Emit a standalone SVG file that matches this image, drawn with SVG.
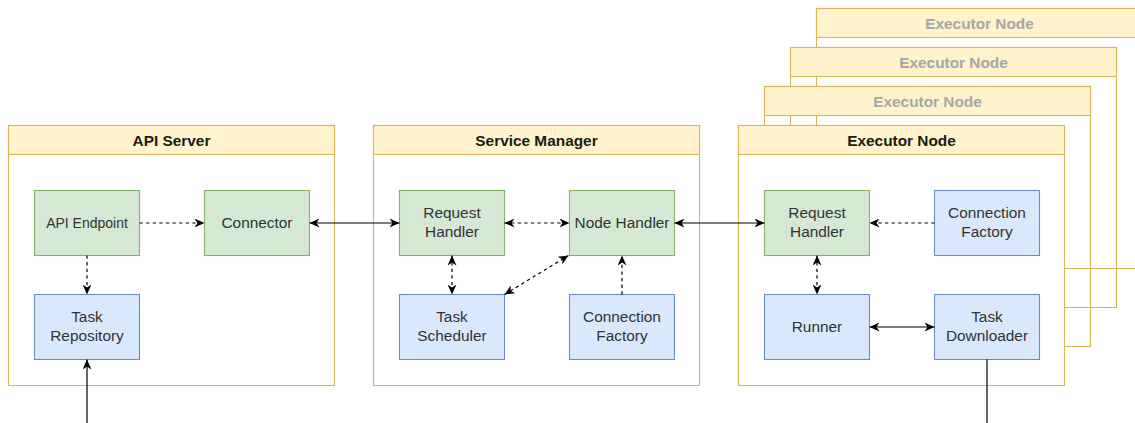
<svg xmlns="http://www.w3.org/2000/svg" width="1135" height="423" viewBox="0 0 1135 423">
<style>
.body{fill:none;stroke:#d6b656;stroke-width:1.1}
.front{fill:#ffffff;stroke:#d6b656;stroke-width:1.1}
.head{fill:#fff2cc;stroke:#d6b656;stroke-width:1.1}
.htxt{font-family:"Liberation Sans",Arial,sans-serif;font-weight:bold;font-size:15.4px;fill:#1a1a1a;text-anchor:middle}
.htxt.ghost{fill:#a6a6a6}
.g{fill:#d5e8d4;stroke:#82b366;stroke-width:1.1}
.b{fill:#dae8fc;stroke:#6c8ebf;stroke-width:1.1}
.t{font-family:"Liberation Sans",Arial,sans-serif;font-size:15.4px;fill:#333333;text-anchor:middle}
.c{fill:none;stroke:#000;stroke-width:1.2}
.d{stroke-dasharray:3.3 3.3}
</style>
<defs>
<marker id="ar" viewBox="0 0 10 9" refX="10" refY="4.5" markerWidth="10" markerHeight="9" markerUnits="userSpaceOnUse" orient="auto-start-reverse">
<path d="M0,0 L10,4.5 L0,9 L3,4.5 z" fill="#000"/>
</marker>
</defs>

<g id="executor-back-1">
<rect class="body" x="816.5" y="8.5" width="326" height="260"/>
<rect class="head" x="816.5" y="8.5" width="326" height="29"/>
<text class="htxt ghost" x="979.5" y="28.5">Executor Node</text>
</g>
<g id="executor-back-2">
<rect class="body" x="790.5" y="47.5" width="326" height="260"/>
<rect class="head" x="790.5" y="47.5" width="326" height="29"/>
<text class="htxt ghost" x="953.5" y="67.5">Executor Node</text>
</g>
<g id="executor-back-3">
<rect class="body" x="764.5" y="86.5" width="326" height="260"/>
<rect class="head" x="764.5" y="86.5" width="326" height="29"/>
<text class="htxt ghost" x="927.5" y="106.5">Executor Node</text>
</g>

<g id="api-server">
<rect class="front" x="8.5" y="125.5" width="326" height="260"/>
<rect class="head" x="8.5" y="125.5" width="326" height="29"/>
<text class="htxt" x="171.5" y="145.5">API Server</text>
</g>
<g id="service-manager">
<rect class="front" x="373.5" y="125.5" width="326" height="260"/>
<rect class="head" x="373.5" y="125.5" width="326" height="29"/>
<text class="htxt" x="536.5" y="145.5">Service Manager</text>
</g>
<g id="executor-node">
<rect class="front" x="738.5" y="125.5" width="326" height="260"/>
<rect class="head" x="738.5" y="125.5" width="326" height="29"/>
<text class="htxt" x="901.5" y="145.5">Executor Node</text>
</g>

<g id="api-endpoint"><rect class="g" x="34.5" y="190.5" width="105" height="65"/><text class="t" x="87" y="228" style="font-size:14px">API Endpoint</text></g>
<g id="connector"><rect class="g" x="204.5" y="190.5" width="105" height="65"/><text class="t" x="257" y="228">Connector</text></g>
<g id="task-repository"><rect class="b" x="34.5" y="294.5" width="105" height="65"/><text class="t" x="87" y="322">Task</text><text class="t" x="87" y="341">Repository</text></g>

<g id="sm-request-handler"><rect class="g" x="399.5" y="190.5" width="105" height="65"/><text class="t" x="452" y="218">Request</text><text class="t" x="452" y="237">Handler</text></g>
<g id="node-handler"><rect class="g" x="569.5" y="190.5" width="105" height="65"/><text class="t" x="622" y="228">Node Handler</text></g>
<g id="task-scheduler"><rect class="b" x="399.5" y="294.5" width="105" height="65"/><text class="t" x="452" y="322">Task</text><text class="t" x="452" y="341">Scheduler</text></g>
<g id="sm-connection-factory"><rect class="b" x="569.5" y="294.5" width="105" height="65"/><text class="t" x="622" y="322">Connection</text><text class="t" x="622" y="341">Factory</text></g>

<g id="ex-request-handler"><rect class="g" x="764.5" y="190.5" width="105" height="65"/><text class="t" x="817" y="218">Request</text><text class="t" x="817" y="237">Handler</text></g>
<g id="ex-connection-factory"><rect class="b" x="934.5" y="190.5" width="105" height="65"/><text class="t" x="987" y="218">Connection</text><text class="t" x="987" y="237">Factory</text></g>
<g id="runner"><rect class="b" x="764.5" y="294.5" width="105" height="65"/><text class="t" x="817" y="332">Runner</text></g>
<g id="task-downloader"><rect class="b" x="934.5" y="294.5" width="105" height="65"/><text class="t" x="987" y="322">Task</text><text class="t" x="987" y="341">Downloader</text></g>

<g id="connectors">
<path class="c d" d="M139.5,223 H204.5" marker-end="url(#ar)"/>
<path class="c d" d="M87,255.5 V294.5" marker-end="url(#ar)"/>
<path class="c" d="M309.5,223 H399.5" marker-start="url(#ar)" marker-end="url(#ar)"/>
<path class="c d" d="M504.5,223 H569.5" marker-start="url(#ar)" marker-end="url(#ar)"/>
<path class="c d" d="M452,255.5 V294.5" marker-start="url(#ar)" marker-end="url(#ar)"/>
<path class="c d" d="M504.5,294.5 L568.5,255.5" marker-start="url(#ar)" marker-end="url(#ar)"/>
<path class="c d" d="M622,294.5 V255.5" marker-end="url(#ar)"/>
<path class="c" d="M674.5,223 H764.5" marker-start="url(#ar)" marker-end="url(#ar)"/>
<path class="c d" d="M934.5,223 H869.5" marker-end="url(#ar)"/>
<path class="c d" d="M817,255.5 V294.5" marker-start="url(#ar)" marker-end="url(#ar)"/>
<path class="c" d="M869.5,327 H934.5" marker-start="url(#ar)" marker-end="url(#ar)"/>
<path class="c" d="M987,359.5 V423"/>
<path class="c" d="M87,423 V359.5" marker-end="url(#ar)"/>
</g>
</svg>
